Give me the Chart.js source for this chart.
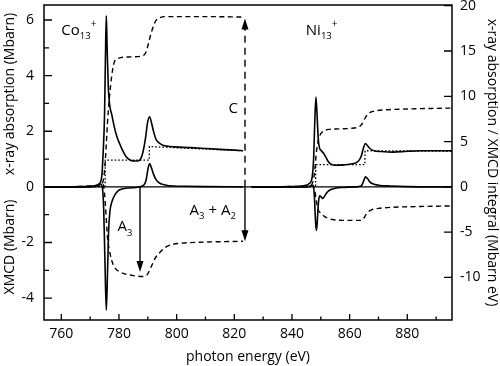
<!DOCTYPE html>
<html>
<head>
<meta charset="utf-8">
<title>Co13+ / Ni13+ XMCD</title>
<script src="https://cdn.jsdelivr.net/npm/chart.js@4.4.0/dist/chart.umd.min.js"></script>
<style>
  html, body { margin: 0; padding: 0; background: #fff; }
  #wrap { width: 500px; height: 366px; position: relative; }
</style>
</head>
<body>
<div id="wrap"><canvas id="xmcdChart"></canvas></div>
<script>
// values (energy in eV, left axis in Mbarn, right axis in Mbarn eV)
const coXasE = [754, 768, 771, 773, 774, 774.5, 775, 775.3, 775.6, 775.9, 776.3, 776.7, 777.5, 778.4, 779.3, 780.2, 781.3, 782.5, 784, 785.5, 787, 788.2, 789.2, 789.9, 790.6, 791.3, 792.1, 792.9, 794, 795.2, 797, 799, 805, 810, 815, 820, 823];
const coXas  = [0, 0.01, 0.03, 0.1, 0.35, 1.2, 2.6, 4.6, 6.15, 5.0, 3.6, 3.0, 2.6, 2.15, 1.8, 1.56, 1.3, 1.08, 0.96, 0.93, 0.95, 1.2, 1.75, 2.3, 2.52, 2.3, 1.95, 1.7, 1.57, 1.5, 1.46, 1.44, 1.41, 1.38, 1.35, 1.32, 1.3];

const coStepE = [754, 775.2, 775.25, 790.5, 790.55, 823];
const coStep  = [0, 0, 0.96, 0.96, 1.45, 1.3];

const coXasIntE = [754, 772, 774, 774.8, 775.4, 776, 776.7, 777.5, 778.4, 779.5, 781, 784, 788, 789.4, 790.2, 791.1, 792, 792.9, 794, 796, 800, 810, 823];
const coXasInt  = [0, 0.05, 0.3, 1.2, 3.6, 7.0, 9.9, 12.3, 13.8, 14.15, 14.3, 14.35, 14.45, 14.9, 15.8, 16.9, 17.8, 18.4, 18.65, 18.8, 18.8, 18.8, 18.75];

const coXmcdE = [754, 770, 772.5, 773.5, 774.2, 774.7, 775.1, 775.6, 776.0, 776.4, 776.9, 777.5, 778.5, 779.6, 781, 783, 786, 788.5, 789.4, 789.9, 790.6, 791.2, 792, 792.9, 794, 796, 799, 803, 810, 823];
const coXmcd  = [0, 0, 0.05, 0.1, 0.0, -0.8, -2.5, -4.43, -3.2, -1.6, -0.85, -0.55, -0.3, -0.15, -0.08, -0.04, -0.02, 0.05, 0.24, 0.55, 0.84, 0.7, 0.45, 0.25, 0.14, 0.07, 0.03, 0.02, 0.01, 0];

const coXmcdIntE = [754, 773.5, 774.5, 775.0, 775.4, 776, 777, 778, 779, 780.2, 782, 785, 788, 789, 790, 790.6, 791.5, 792.5, 794, 796, 798, 801, 810, 823];
const coXmcdInt  = [0, 0.15, 0.3, -0.8, -2.5, -5.5, -7.5, -8.6, -9.1, -9.37, -9.6, -9.8, -9.9, -9.85, -9.6, -9.2, -8.6, -7.9, -7.3, -6.7, -6.4, -6.24, -6.1, -6.0];

const niXasE = [826, 840, 844, 846, 847, 847.5, 847.9, 848.3, 848.7, 849.1, 849.5, 850.2, 851, 851.7, 852.5, 853.5, 855, 858, 861, 863, 864, 864.8, 865.5, 866.2, 867, 868.5, 871, 875, 880, 885, 890, 895.5];
const niXas  = [0, 0.01, 0.04, 0.12, 0.35, 1.0, 2.3, 3.23, 2.6, 1.75, 1.42, 1.3, 1.2, 1.08, 0.92, 0.82, 0.78, 0.79, 0.83, 0.92, 1.1, 1.4, 1.56, 1.48, 1.38, 1.3, 1.27, 1.25, 1.28, 1.3, 1.3, 1.3];

const niStepE = [826, 848.2, 848.25, 865.3, 865.35, 895.5];
const niStep  = [0, 0, 0.8, 0.8, 1.3, 1.28];

const niXasIntE = [826, 846, 847.3, 847.9, 848.4, 849, 849.7, 850.5, 851.5, 853, 856, 860, 863, 864.2, 865.2, 866.2, 867.3, 869, 872, 880, 895.5];
const niXasInt  = [0, 0.1, 0.6, 1.8, 3.6, 5.0, 5.7, 6.05, 6.25, 6.35, 6.4, 6.45, 6.6, 6.9, 7.5, 8.0, 8.25, 8.4, 8.5, 8.6, 8.7];

const niXmcdE = [826, 845, 846.5, 847.4, 847.8, 848.2, 848.5, 848.8, 849.2, 849.6, 850.1, 850.6, 851.2, 852, 853, 855, 858, 862, 864, 864.8, 865.5, 866.2, 867, 868, 870, 874, 880, 895.5];
const niXmcd  = [0, 0, 0.04, 0.06, -0.4, -1.3, -1.57, -1.2, -0.55, -0.32, -0.36, -0.42, -0.35, -0.22, -0.12, -0.05, -0.02, 0, 0.03, 0.2, 0.36, 0.3, 0.18, 0.11, 0.06, 0.03, 0.01, 0];

const niXmcdIntE = [826, 846, 847.4, 847.9, 848.3, 848.7, 849.2, 850, 851, 852, 854, 858, 864, 864.8, 865.6, 866.5, 867.5, 870, 875, 880, 895.5];
const niXmcdInt  = [0, 0.05, 0.1, -0.4, -1.2, -2.0, -2.6, -2.9, -3.2, -3.4, -3.6, -3.7, -3.7, -3.5, -3.1, -2.75, -2.55, -2.38, -2.25, -2.2, -2.1];

// axis ticks
const xTicks  = [760, 780, 800, 820, 840, 860, 880];
const xMinor  = [770, 790, 810, 830, 850, 870, 890];
const yTicks  = [-4, -2, 0, 2, 4, 6];
const yMinor  = [-3, -1, 1, 3, 5];
const y2Ticks = [-10, -5, 0, 5, 10, 15, 20];

// sum-rule arrows: energy, end value on the right axis
const arrowA3 = { e: 787.3, to: -9.4 };
const arrowA32 = { e: 823.7, to: -6.0 };
const arrowC = { e: 823.7, to: 18.6 };

const FONT = '"Open Sans", "DejaVu Sans", sans-serif';

function series(xs, ys) {
    return xs.map((x, i) => ({ x: x, y: ys[i] }));
}

const solid  = { borderColor: '#000', borderWidth: 1.6, pointRadius: 0, fill: false, cubicInterpolationMode: 'monotone' };
const dashed = { borderColor: '#000', borderWidth: 1.4, pointRadius: 0, fill: false, borderDash: [5, 3.5], cubicInterpolationMode: 'monotone' };
const dotted = { borderColor: '#000', borderWidth: 1.3, pointRadius: 0, fill: false, borderDash: [1.6, 2], tension: 0 };

function arrowHead(ctx, x, y, dir) {
    // dir = +1 points down, -1 points up
    ctx.beginPath();
    ctx.moveTo(x, y);
    ctx.lineTo(x - 3.5, y - dir * 11);
    ctx.lineTo(x + 3.5, y - dir * 11);
    ctx.closePath();
    ctx.fill();
}

// base text with optional subscript / superscript, left edge at x
function chemText(ctx, parts, x, y) {
    let cx = x;
    parts.forEach(p => {
        let size = 15, dy = 0;
        if (p.sub) { size = 9.5; dy = 6; }
        if (p.sup) { size = 10; dy = -6; }
        ctx.font = size + 'px ' + FONT;
        ctx.fillText(p.t, cx, y + dy);
        cx += ctx.measureText(p.t).width;
    });
}

// fixed box sizes, no label overhang padding
function fixBox(size) {
    return s => {
        if (s.isHorizontal()) s.height = size; else s.width = size;
        s.paddingTop = 0; s.paddingBottom = 0; s.paddingLeft = 0; s.paddingRight = 0;
    };
}

const decorPlugin = {
    id: 'decor',
    beforeDatasetsDraw(chart) {
        const { ctx, chartArea: a, scales } = chart;
        const y0 = scales.y.getPixelForValue(0);
        ctx.save();
        ctx.strokeStyle = '#000';
        ctx.lineWidth = 1.2;
        ctx.beginPath();
        ctx.moveTo(a.left, y0);
        ctx.lineTo(a.right, y0);
        ctx.stroke();
        ctx.restore();
    },
    afterDatasetsDraw(chart) {
        const { ctx, chartArea: a, scales } = chart;
        const x = scales.x, y = scales.y, y2 = scales.y2;
        ctx.save();
        ctx.strokeStyle = '#000';
        ctx.fillStyle = '#000';

        // frame
        ctx.lineWidth = 1.5;
        ctx.strokeRect(a.left, a.top, a.right - a.left, a.bottom - a.top);

        // inward tick marks
        ctx.lineWidth = 1.3;
        ctx.beginPath();
        xTicks.forEach(v => { const p = x.getPixelForValue(v); ctx.moveTo(p, a.bottom); ctx.lineTo(p, a.bottom - 6); });
        xMinor.forEach(v => { const p = x.getPixelForValue(v); ctx.moveTo(p, a.bottom); ctx.lineTo(p, a.bottom - 3.5); });
        yTicks.forEach(v => { const p = y.getPixelForValue(v); ctx.moveTo(a.left, p); ctx.lineTo(a.left + 8, p); });
        yMinor.forEach(v => { const p = y.getPixelForValue(v); ctx.moveTo(a.left, p); ctx.lineTo(a.left + 5, p); });
        y2Ticks.forEach(v => { const p = y2.getPixelForValue(v); ctx.moveTo(a.right, p); ctx.lineTo(a.right - 8, p); });
        ctx.stroke();

        // arrows
        const z = y2.getPixelForValue(0);
        ctx.lineWidth = 1.4;
        let px = x.getPixelForValue(arrowA3.e), tip = y2.getPixelForValue(arrowA3.to);
        ctx.beginPath(); ctx.moveTo(px, z); ctx.lineTo(px, tip - 8); ctx.stroke();
        arrowHead(ctx, px, tip, 1);

        px = x.getPixelForValue(arrowA32.e); tip = y2.getPixelForValue(arrowA32.to);
        ctx.beginPath(); ctx.moveTo(px, z); ctx.lineTo(px, tip - 8); ctx.stroke();
        arrowHead(ctx, px, tip, 1);

        tip = y2.getPixelForValue(arrowC.to);
        ctx.setLineDash([7, 5]);
        ctx.beginPath(); ctx.moveTo(px, z); ctx.lineTo(px, tip + 8); ctx.stroke();
        ctx.setLineDash([]);
        arrowHead(ctx, px, tip, -1);

        // labels inside the plot
        ctx.textBaseline = 'middle';
        ctx.textAlign = 'left';
        chemText(ctx, [{ t: 'Co' }, { t: '13', sub: true }, { t: '+', sup: true }], x.getPixelForValue(760), y.getPixelForValue(5.63));
        chemText(ctx, [{ t: 'Ni' }, { t: '13', sub: true }, { t: '+', sup: true }], x.getPixelForValue(844.8), y.getPixelForValue(5.63));
        chemText(ctx, [{ t: 'C' }], x.getPixelForValue(818), y.getPixelForValue(2.81));
        chemText(ctx, [{ t: 'A' }, { t: '3', sub: true }], x.getPixelForValue(779.5), y.getPixelForValue(-1.44));
        chemText(ctx, [{ t: 'A' }, { t: '3', sub: true }, { t: ' + A' }, { t: '2', sub: true }], x.getPixelForValue(804.5), y.getPixelForValue(-0.84));

        // left axis titles (two, one per half)
        ctx.font = '14px ' + FONT;
        ctx.textAlign = 'center';
        ctx.save();
        ctx.translate(10, 94);
        ctx.rotate(-Math.PI / 2);
        ctx.fillText('x-ray absorption (Mbarn)', 0, 0);
        ctx.restore();
        ctx.save();
        ctx.translate(10, 247);
        ctx.rotate(-Math.PI / 2);
        ctx.fillText('XMCD (Mbarn)', 0, 0);
        ctx.restore();

        ctx.restore();
    }
};

function initChart() {
    const ctx = document.getElementById('xmcdChart').getContext('2d');
    const tickFont = { family: FONT, size: 14 };

    new Chart(ctx, {
        type: 'line',
        data: {
            datasets: [
                { ...solid,  data: series(coXasE, coXas), yAxisID: 'y' },
                { ...dotted, data: series(coStepE, coStep), yAxisID: 'y' },
                { ...dashed, data: series(coXasIntE, coXasInt), yAxisID: 'y2' },
                { ...solid,  data: series(coXmcdE, coXmcd), yAxisID: 'y' },
                { ...dashed, data: series(coXmcdIntE, coXmcdInt), yAxisID: 'y2' },
                { ...solid,  data: series(niXasE, niXas), yAxisID: 'y' },
                { ...dotted, data: series(niStepE, niStep), yAxisID: 'y' },
                { ...dashed, data: series(niXasIntE, niXasInt), yAxisID: 'y2' },
                { ...solid,  data: series(niXmcdE, niXmcd), yAxisID: 'y' },
                { ...dashed, data: series(niXmcdIntE, niXmcdInt), yAxisID: 'y2' }
            ]
        },
        options: {
            responsive: true,
            maintainAspectRatio: false,
            animation: false,
            layout: { autoPadding: false, padding: { top: 5, left: 0, right: 0, bottom: 0 } },
            plugins: {
                legend: { display: false },
                tooltip: { enabled: false }
            },
            scales: {
                x: {
                    type: 'linear',
                    min: 754,
                    max: 895.5,
                    afterBuildTicks: s => { s.ticks = xTicks.map(v => ({ value: v })); },
                    afterFit: fixBox(46),
                    grid: { display: false, drawTicks: false },
                    border: { display: false },
                    ticks: { font: tickFont, color: '#000', padding: 6, maxRotation: 0, autoSkip: false, callback: v => String(v) },
                    title: { display: true, text: 'photon energy (eV)', font: tickFont, color: '#000', padding: { top: 0, bottom: 1 } }
                },
                y: {
                    position: 'left',
                    min: -4.787,
                    max: 6.54,
                    afterBuildTicks: s => { s.ticks = yTicks.map(v => ({ value: v })); },
                    afterFit: fixBox(44),
                    grid: { display: false, drawTicks: false },
                    border: { display: false },
                    ticks: { font: tickFont, color: '#000', padding: 10, callback: v => String(v) }
                },
                y2: {
                    position: 'right',
                    min: -14.70,
                    max: 20.08,
                    afterBuildTicks: s => { s.ticks = y2Ticks.map(v => ({ value: v })); },
                    afterFit: fixBox(48),
                    grid: { display: false, drawTicks: false },
                    border: { display: false },
                    ticks: { font: tickFont, color: '#000', padding: 8, callback: v => String(v) },
                    title: { display: true, text: 'x-ray absorption / XMCD integral (Mbarn eV)', font: tickFont, color: '#000', padding: { top: 0, bottom: 0 } }
                }
            }
        },
        plugins: [decorPlugin]
    });
}

document.addEventListener('DOMContentLoaded', initChart);
</script>
</body>
</html>
